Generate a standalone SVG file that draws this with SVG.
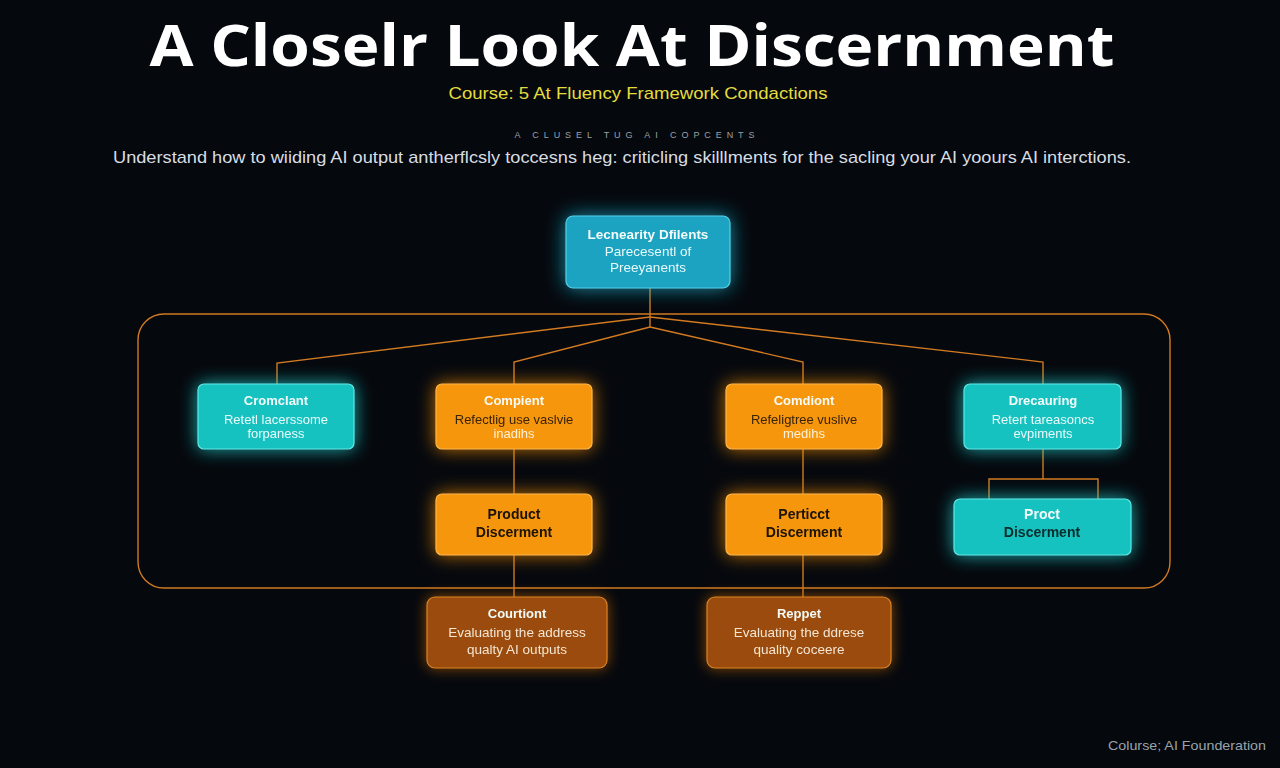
<svg xmlns="http://www.w3.org/2000/svg" width="1280" height="768" viewBox="0 0 1280 768">
<defs>
<filter id="glowC" x="-40%" y="-70%" width="180%" height="240%">
<feGaussianBlur in="SourceAlpha" stdDeviation="9" result="b"/>
<feFlood flood-color="#1fd6d6" flood-opacity="0.8"/>
<feComposite in2="b" operator="in" result="g"/>
<feMerge><feMergeNode in="g"/><feMergeNode in="SourceGraphic"/></feMerge>
</filter>
<filter id="glowB" x="-40%" y="-70%" width="180%" height="240%">
<feGaussianBlur in="SourceAlpha" stdDeviation="10" result="b"/>
<feFlood flood-color="#1ab8d8" flood-opacity="0.75"/>
<feComposite in2="b" operator="in" result="g"/>
<feMerge><feMergeNode in="g"/><feMergeNode in="SourceGraphic"/></feMerge>
</filter>
<filter id="glowO" x="-40%" y="-70%" width="180%" height="240%">
<feGaussianBlur in="SourceAlpha" stdDeviation="9" result="b"/>
<feFlood flood-color="#f08a10" flood-opacity="0.8"/>
<feComposite in2="b" operator="in" result="g"/>
<feMerge><feMergeNode in="g"/><feMergeNode in="SourceGraphic"/></feMerge>
</filter>
<filter id="glowD" x="-40%" y="-70%" width="180%" height="240%">
<feGaussianBlur in="SourceAlpha" stdDeviation="7" result="b"/>
<feFlood flood-color="#d06a10" flood-opacity="0.65"/>
<feComposite in2="b" operator="in" result="g"/>
<feMerge><feMergeNode in="g"/><feMergeNode in="SourceGraphic"/></feMerge>
</filter>
</defs>
<style>
text{font-family:"Liberation Sans","DejaVu Sans",sans-serif;text-anchor:middle}
.cy{fill:#16c2c0;stroke:#5ee8e6;stroke-width:1.2}
.bl{fill:#1aa3c2;stroke:#55d2ea;stroke-width:1.2}
.or{fill:#f5960e;stroke:#ffb648;stroke-width:1.2}
.dk{fill:#9a4b08;stroke:#d98426;stroke-width:1.2}
.t{font-size:13px;font-weight:bold;fill:#f4fbfb}
.b{font-size:13px;fill:#eafafa}
.bd{font-size:13px;fill:#3a2206}
.bo{font-size:13px;fill:#fff1d8}
.t2{font-size:14px;font-weight:bold;fill:#1c1204}
.ln{stroke:#d27a22;stroke-width:1.4;fill:none}
</style>
<rect width="1280" height="768" fill="#05080d"/>
<text x="632" y="66" font-size="58" font-weight="bold" fill="#ffffff" textLength="965" lengthAdjust="spacingAndGlyphs" style="font-family:'Open Sans','Liberation Sans',sans-serif">A Closelr Look At Discernment</text>
<text x="638" y="99" font-size="17" fill="#e4dc3e" textLength="379" lengthAdjust="spacingAndGlyphs">Course: 5 At Fluency Framework Condactions</text>
<text x="636" y="138" font-size="9" fill="#9aa0a8" letter-spacing="3" textLength="243" lengthAdjust="spacing">A CLUSEL TUG AI COPCENTS</text>
<text x="622" y="163" font-size="17" fill="#d8dde2" textLength="1018" lengthAdjust="spacingAndGlyphs">Understand how to wiiding AI output antherflcsly toccesns heg: criticling skilllments for the sacling your AI yoours AI interctions.</text>

<g id="connectors">
<rect x="138" y="314" width="1032" height="274" rx="26" class="ln"/>
<polyline class="ln" points="650,288 650,327"/>
<polyline class="ln" points="650,317 277,363 277,384"/>
<polyline class="ln" points="650,327 514,362 514,384"/>
<polyline class="ln" points="650,327 803,362 803,384"/>
<polyline class="ln" points="650,317 1043,362 1043,384"/>
<line class="ln" x1="514" y1="449" x2="514" y2="494"/>
<line class="ln" x1="803" y1="449" x2="803" y2="494"/>
<polyline class="ln" points="1043,449 1043,479"/>
<polyline class="ln" points="989,499 989,479 1098,479 1098,499"/>
<line class="ln" x1="514" y1="555" x2="514" y2="597"/>
<line class="ln" x1="803" y1="555" x2="803" y2="597"/>
</g>

<g id="top" filter="url(#glowB)">
<rect x="566" y="216" width="164" height="72" rx="7" class="bl"/>
<text x="648" y="239" class="t" style="font-size:13.5px">Lecnearity Dfilents</text>
<text x="648" y="256" class="b" style="font-size:13.5px">Parecesentl of</text>
<text x="648" y="272" class="b" style="font-size:13.5px">Preeyanents</text>
</g>

<g id="n1" filter="url(#glowC)">
<rect x="198" y="384" width="156" height="65" rx="6" class="cy"/>
<text x="276" y="405" class="t">Cromclant</text>
<text x="276" y="424" class="b">Retetl lacerssome</text>
<text x="276" y="438" class="b">forpaness</text>
</g>

<g id="n2" filter="url(#glowO)">
<rect x="436" y="384" width="156" height="65" rx="6" class="or"/>
<text x="514" y="405" class="t">Compient</text>
<text x="514" y="424" class="bd">Refectlig use vaslvie</text>
<text x="514" y="438" class="bo">inadihs</text>
</g>

<g id="n3" filter="url(#glowO)">
<rect x="726" y="384" width="156" height="65" rx="6" class="or"/>
<text x="804" y="405" class="t">Comdiont</text>
<text x="804" y="424" class="bd">Refeligtree vuslive</text>
<text x="804" y="438" class="bo">medihs</text>
</g>

<g id="n4" filter="url(#glowC)">
<rect x="964" y="384" width="157" height="65" rx="6" class="cy"/>
<text x="1043" y="405" class="t">Drecauring</text>
<text x="1043" y="424" class="b">Retert tareasoncs</text>
<text x="1043" y="438" class="b">evpiments</text>
</g>

<g id="n5" filter="url(#glowO)">
<rect x="436" y="494" width="156" height="61" rx="6" class="or"/>
<text x="514" y="519" class="t2">Product</text>
<text x="514" y="537" class="t2">Discerment</text>
</g>

<g id="n6" filter="url(#glowO)">
<rect x="726" y="494" width="156" height="61" rx="6" class="or"/>
<text x="804" y="519" class="t2">Perticct</text>
<text x="804" y="537" class="t2">Discerment</text>
</g>

<g id="n7" filter="url(#glowC)">
<rect x="954" y="499" width="177" height="56" rx="6" class="cy"/>
<text x="1042" y="519" class="t" style="font-size:14px">Proct</text>
<text x="1042" y="537" class="t2" style="fill:#0b2c2c">Discerment</text>
</g>

<g id="n8" filter="url(#glowD)">
<rect x="427" y="597" width="180" height="71" rx="8" class="dk"/>
<text x="517" y="618" class="t">Courtiont</text>
<text x="517" y="637" class="b" style="font-size:13.5px;fill:#f3e6d6">Evaluating the address</text>
<text x="517" y="654" class="b" style="font-size:13.5px;fill:#f3e6d6">qualty AI outputs</text>
</g>

<g id="n9" filter="url(#glowD)">
<rect x="707" y="597" width="184" height="71" rx="8" class="dk"/>
<text x="799" y="618" class="t">Reppet</text>
<text x="799" y="637" class="b" style="font-size:13.5px;fill:#f3e6d6">Evaluating the ddrese</text>
<text x="799" y="654" class="b" style="font-size:13.5px;fill:#f3e6d6">quality coceere</text>
</g>

<text x="1187" y="750" font-size="13.5" fill="#9aa3ab" textLength="158" lengthAdjust="spacingAndGlyphs">Colurse; AI Founderation</text>
</svg>
